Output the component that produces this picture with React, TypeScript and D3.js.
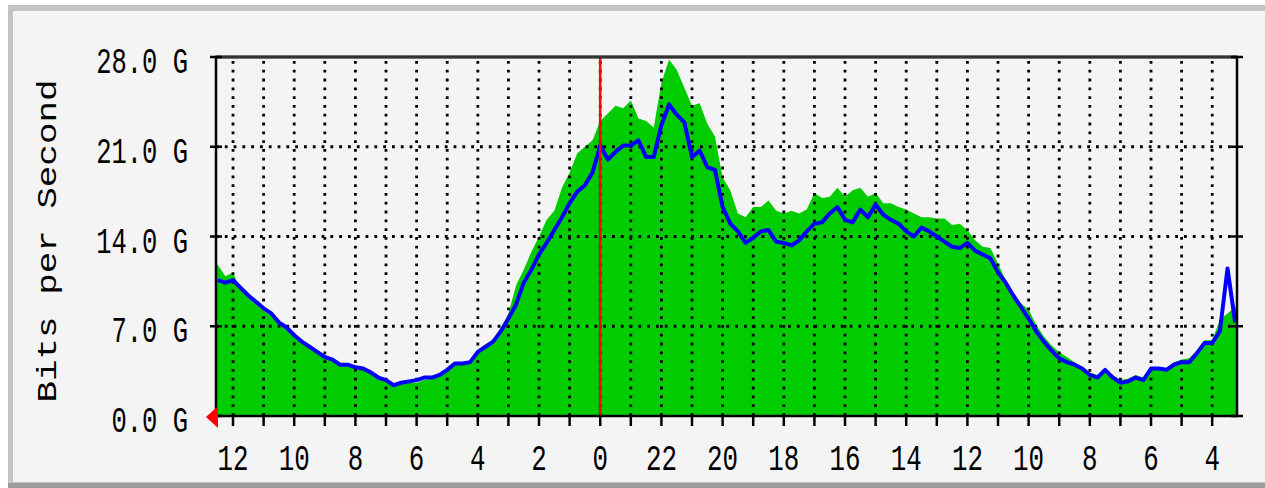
import React from 'react';
import * as d3 from 'd3';

// samples every 15 min, starting half an hour left of the "12" tick
const sampleStep = 0.25;
const sampleStart = -0.5;

// incoming traffic (green area), Gbit/s
const inTraffic = [
  11.8, 10.9, 11.2, 9.8, 9.2, 8.7, 8.2, 7.8, 7.2, 6.7, 6.2, 5.7, 5.3, 4.9, 4.5, 4.3, 3.9, 3.9, 3.7, 3.6,
  3.3, 2.9, 2.7, 2.3, 2.5, 2.6, 2.6, 2.8, 2.9, 3.1, 3.5, 4.0, 4.0, 4.1, 4.9, 5.4, 5.9, 6.8, 8.0, 10.2,
  11.4, 12.8, 14.0, 15.3, 16.0, 17.8, 19.0, 20.5, 21.0, 21.5, 23.0, 23.6, 24.2, 24.0, 24.6, 23.2, 23.0, 22.5, 26.0, 27.8,
  27.0, 25.6, 24.2, 24.4, 22.8, 21.8, 18.6, 17.6, 15.8, 15.5, 16.3, 16.3, 16.8, 16.0, 15.8, 16.0, 15.8, 16.1, 17.4, 17.0,
  17.1, 17.8, 17.1, 17.6, 17.8, 17.1, 17.4, 16.6, 16.6, 16.3, 16.1, 15.8, 15.5, 15.5, 15.4, 15.4, 14.9, 15.0, 14.5, 13.7,
  13.2, 13.1, 11.9, 10.6, 9.6, 8.8, 8.3, 7.1, 6.2, 5.5, 5.0, 4.6, 4.2, 3.8, 3.4, 3.2, 3.7, 3.2, 2.8, 2.9,
  3.2, 3.0, 3.8, 3.8, 3.7, 4.2, 4.4, 4.5, 5.1, 5.9, 5.9, 7.5, 8.0, 8.5,
];

// outgoing traffic (blue line), Gbit/s
const outTraffic = [
  10.6, 10.4, 10.6, 10.0, 9.4, 8.9, 8.4, 8.0, 7.3, 6.9, 6.3, 5.8, 5.4, 5.0, 4.6, 4.4, 4.0, 4.0, 3.8, 3.7,
  3.4, 3.0, 2.8, 2.4, 2.6, 2.7, 2.8, 3.0, 3.0, 3.2, 3.6, 4.1, 4.1, 4.2, 5.0, 5.4, 5.8, 6.6, 7.6, 8.7,
  10.4, 11.4, 12.6, 13.5, 14.5, 15.5, 16.6, 17.5, 18.0, 19.0, 21.1, 20.0, 20.6, 21.1, 21.1, 21.5, 20.2, 20.2, 22.7, 24.3,
  23.5, 22.9, 20.2, 20.7, 19.4, 19.2, 16.3, 15.0, 14.4, 13.5, 13.9, 14.4, 14.5, 13.6, 13.5, 13.3, 13.7, 14.4, 15.0, 15.1,
  15.8, 16.3, 15.3, 15.1, 16.1, 15.5, 16.5, 15.7, 15.3, 15.0, 14.4, 14.0, 14.7, 14.4, 14.0, 13.6, 13.2, 13.1, 13.5, 12.9,
  12.6, 12.3, 11.2, 10.4, 9.4, 8.5, 7.6, 6.6, 5.8, 5.1, 4.5, 4.2, 4.0, 3.7, 3.2, 3.0, 3.6, 3.0, 2.6, 2.7,
  3.0, 2.8, 3.7, 3.7, 3.6, 4.0, 4.2, 4.2, 4.9, 5.7, 5.7, 6.6, 11.5, 7.3,
];

const hourLabels = ['12', '10', '8', '6', '4', '2', '0', '22', '20', '18', '16', '14', '12', '10', '8', '6', '4'];
const yTicks = [0, 7, 14, 21, 28];
const yTickLabels = ['0.0 G', '7.0 G', '14.0 G', '21.0 G', '28.0 G'];
const midnightHour = 12; // hours right of the first "12" tick

const W = 1265;
const H = 488;
const mono = '"Liberation Mono", "DejaVu Sans Mono", monospace';

export default function App() {
  const x = d3.scaleLinear().domain([-0.556, 32.81]).range([216, 1237]);
  const y = d3.scaleLinear().domain([0, 28]).range([416, 57]);

  const inData = inTraffic.map((v, i) => ({ t: sampleStart + i * sampleStep, v }));
  const outData = outTraffic.map((v, i) => ({ t: sampleStart + i * sampleStep, v }));

  const area = d3.area<{ t: number; v: number }>()
    .x(d => x(d.t))
    .y0(y(0))
    .y1(d => y(d.v));
  const line = d3.line<{ t: number; v: number }>()
    .x(d => x(d.t))
    .y(d => y(d.v));

  // area runs from the left axis to the right axis
  const inFull = [
    { t: x.domain()[0], v: inTraffic[0] },
    ...inData,
    { t: x.domain()[1], v: inTraffic[inTraffic.length - 1] },
  ];

  const [x0, x1] = x.range();
  const [yb, yt] = y.range();
  const hourTicks = d3.range(0, 33);

  return (
    <svg width={W} height={H} style={{ position: 'absolute', left: 0, top: 0 }}>
      <rect x={0} y={0} width={W} height={H} fill="#ffffff" />
      <rect x={8} y={5} width={W} height={H} fill="#c4c4c4" />
      <rect x={13} y={11} width={W} height={H - 17} fill="#f4f4f4" />
      <rect x={8} y={483} width={W} height={5} fill="#9c9c9c" />

      {/* in traffic */}
      <path d={area(inFull) ?? ''} fill="#00cc00" />

      {/* dotted grid */}
      <g stroke="#000" strokeWidth={2.8} strokeDasharray="2.8 6">
        {hourTicks.map(h => (
          <line key={'v' + h} x1={x(h)} x2={x(h)} y1={yt + 4} y2={yb} />
        ))}
        {yTicks.slice(1, -1).map(v => (
          <line key={'h' + v} x1={x0} x2={x1} y1={y(v)} y2={y(v)} />
        ))}
      </g>

      {/* out traffic */}
      <path d={line(outData) ?? ''} fill="none" stroke="#0000ff" strokeWidth={4} strokeLinejoin="round" />

      {/* midnight */}
      <line x1={x(midnightHour)} x2={x(midnightHour)} y1={yt} y2={yb} stroke="#ff0000" strokeWidth={2.5} />

      {/* frame */}
      <rect x={x0} y={yt} width={x1 - x0} height={yb - yt} fill="none" stroke="#000" strokeWidth={2.5} />
      <line x1={x0} x2={x1} y1={yt} y2={yt} stroke="#333" strokeWidth={3} />

      {/* ticks */}
      <g stroke="#000" strokeWidth={2.5}>
        {yTicks.map(v => (
          <g key={'yt' + v}>
            <line x1={x0 - 6} x2={x0 + 6} y1={y(v)} y2={y(v)} />
            <line x1={x1 - 6} x2={x1 + 6} y1={y(v)} y2={y(v)} />
          </g>
        ))}
        {hourTicks.map(h => (
          <line key={'xt' + h} x1={x(h)} x2={x(h)} y1={yb} y2={yb + 10} />
        ))}
      </g>

      {/* origin arrow */}
      <polygon points={`${x0 - 10},${yb + 1} ${x0 + 2},${yb - 10} ${x0 + 2},${yb + 12}`} fill="#ff0000" />

      {/* y labels */}
      <g fontFamily={mono} fontSize={36} fill="#000">
        {yTicks.map((v, i) => (
          <text key={'yl' + v} x={188} y={y(v) + 16} textAnchor="end"
            textLength={yTickLabels[i].length * 15.3} lengthAdjust="spacingAndGlyphs">
            {yTickLabels[i]}
          </text>
        ))}
      </g>

      {/* x labels */}
      <g fontFamily={mono} fontSize={37} fill="#000">
        {hourLabels.map((l, i) => (
          <text key={'xl' + i} x={x(i * 2)} y={470} textAnchor="middle"
            textLength={l.length * 15.5} lengthAdjust="spacingAndGlyphs">
            {l}
          </text>
        ))}
      </g>

      <text transform="translate(56,241) rotate(-90)" textAnchor="middle" fontFamily={mono}
        fontSize={27.5} textLength={323} lengthAdjust="spacingAndGlyphs" fill="#000">
        Bits per Second
      </text>
    </svg>
  );
}
